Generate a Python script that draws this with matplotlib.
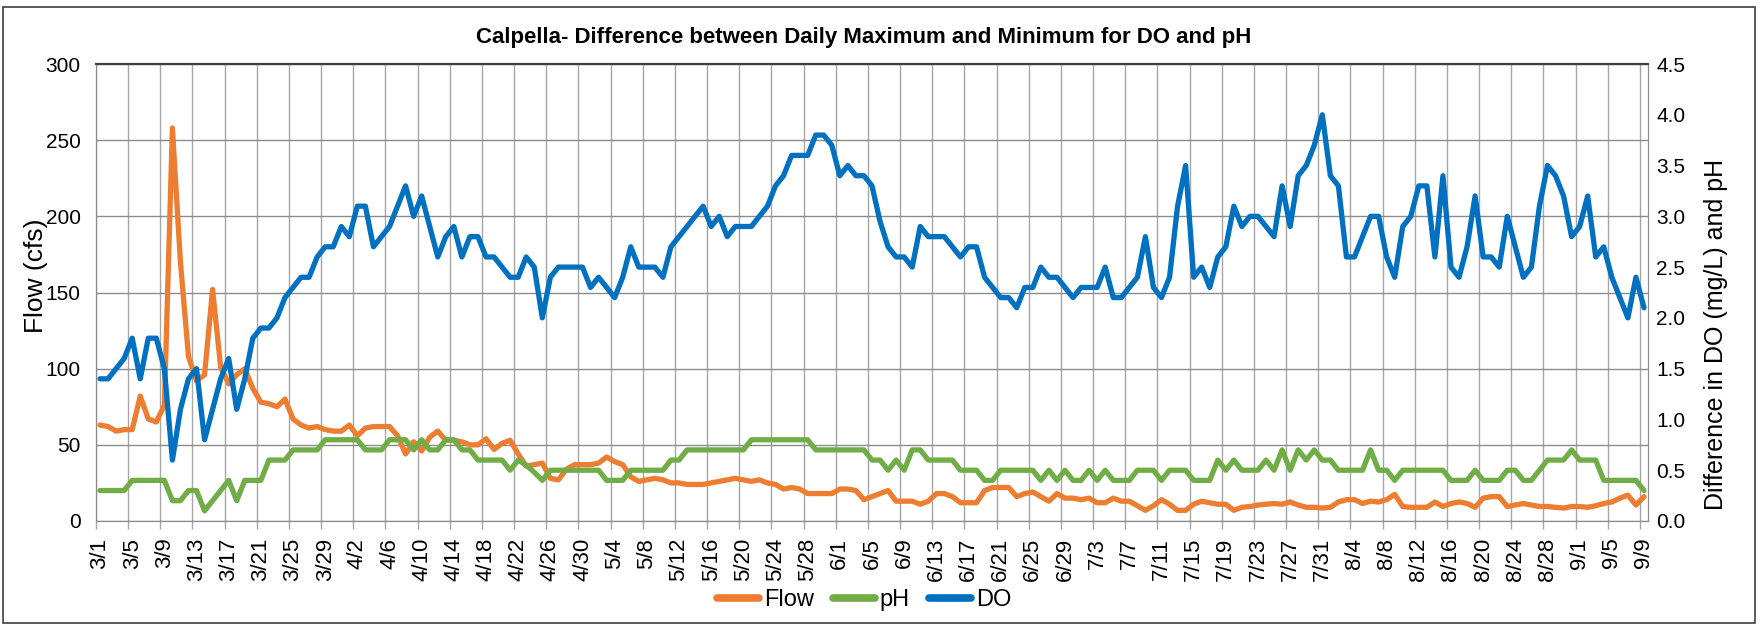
import numpy as np
import pandas as pd
import matplotlib
matplotlib.use('Agg')
import matplotlib.pyplot as plt
from matplotlib.patches import Rectangle
from matplotlib.ticker import FormatStrFormatter

plt.rcParams['font.family'] = ['Liberation Sans', 'DejaVu Sans']

# daily values, 3/1 .. 9/9
flow = [63, 62, 59, 60, 60, 82, 67, 65, 76, 258,
        170, 108, 92, 96, 152, 101, 90, 96, 100, 87,
        78, 77, 75, 80, 67, 63, 61, 62, 60, 59,
        59, 63, 56, 61, 62, 62, 62, 56, 44, 52,
        46, 55, 59, 53, 53, 52, 50, 50, 54, 47,
        51, 53, 44, 36, 37, 38, 28, 27, 34, 37,
        37, 37, 38, 42, 39, 37, 29, 26, 27, 28,
        27, 25, 25, 24, 24, 24, 25, 26, 27, 28,
        27, 26, 27, 25, 24, 21, 22, 21, 18, 18,
        18, 18, 21, 21, 20, 14, 16, 18, 20, 13,
        13, 13, 11, 13, 18, 18, 16, 12, 12, 12,
        20, 22, 22, 22, 16, 18, 19, 16, 13, 18,
        15, 15, 14, 15, 12, 12, 15, 13, 13, 10,
        7, 10, 14, 11, 7, 7, 11, 13, 12, 11,
        11, 7, 9, 9.5, 10.5, 11, 11.5, 11, 12.5, 10.5,
        9, 9, 8.5, 9, 12.5, 14, 14, 11.5, 13, 12.5,
        14, 17.5, 9.5, 9, 9, 9, 12.5, 9.5, 11.5, 12.5,
        11.5, 9, 15, 16, 16, 9.5, 10.5, 11.5, 10.5, 9.5,
        9.5, 9, 8.5, 9.5, 9.5, 9, 10, 11.5, 12.5, 15,
        17, 10.5, 16]

ph = [0.3, 0.3, 0.3, 0.3, 0.4, 0.4, 0.4, 0.4, 0.4, 0.2,
      0.2, 0.3, 0.3, 0.1, 0.2, 0.3, 0.4, 0.2, 0.4, 0.4,
      0.4, 0.6, 0.6, 0.6, 0.7, 0.7, 0.7, 0.7, 0.8, 0.8,
      0.8, 0.8, 0.8, 0.7, 0.7, 0.7, 0.8, 0.8, 0.8, 0.7,
      0.8, 0.7, 0.7, 0.8, 0.8, 0.7, 0.7, 0.6, 0.6, 0.6,
      0.6, 0.5, 0.6, 0.55, 0.48, 0.4, 0.5, 0.5, 0.5, 0.5,
      0.5, 0.5, 0.5, 0.4, 0.4, 0.4, 0.5, 0.5, 0.5, 0.5,
      0.5, 0.6, 0.6, 0.7, 0.7, 0.7, 0.7, 0.7, 0.7, 0.7,
      0.7, 0.8, 0.8, 0.8, 0.8, 0.8, 0.8, 0.8, 0.8, 0.7,
      0.7, 0.7, 0.7, 0.7, 0.7, 0.7, 0.6, 0.6, 0.5, 0.6,
      0.5, 0.7, 0.7, 0.6, 0.6, 0.6, 0.6, 0.5, 0.5, 0.5,
      0.4, 0.4, 0.5, 0.5, 0.5, 0.5, 0.5, 0.4, 0.5, 0.4,
      0.5, 0.4, 0.4, 0.5, 0.4, 0.5, 0.4, 0.4, 0.4, 0.5,
      0.5, 0.5, 0.4, 0.5, 0.5, 0.5, 0.4, 0.4, 0.4, 0.6,
      0.5, 0.6, 0.5, 0.5, 0.5, 0.6, 0.5, 0.7, 0.5, 0.7,
      0.6, 0.7, 0.6, 0.6, 0.5, 0.5, 0.5, 0.5, 0.7, 0.5,
      0.5, 0.4, 0.5, 0.5, 0.5, 0.5, 0.5, 0.5, 0.4, 0.4,
      0.4, 0.5, 0.4, 0.4, 0.4, 0.5, 0.5, 0.4, 0.4, 0.5,
      0.6, 0.6, 0.6, 0.7, 0.6, 0.6, 0.6, 0.4, 0.4, 0.4,
      0.4, 0.4, 0.3]

do = [1.4, 1.4, 1.5, 1.6, 1.8, 1.4, 1.8, 1.8, 1.5, 0.6,
      1.1, 1.4, 1.5, 0.8, 1.1, 1.4, 1.6, 1.1, 1.4, 1.8,
      1.9, 1.9, 2.0, 2.2, 2.3, 2.4, 2.4, 2.6, 2.7, 2.7,
      2.9, 2.8, 3.1, 3.1, 2.7, 2.8, 2.9, 3.1, 3.3, 3.0,
      3.2, 2.9, 2.6, 2.8, 2.9, 2.6, 2.8, 2.8, 2.6, 2.6,
      2.5, 2.4, 2.4, 2.6, 2.5, 2.0, 2.4, 2.5, 2.5, 2.5,
      2.5, 2.3, 2.4, 2.3, 2.2, 2.4, 2.7, 2.5, 2.5, 2.5,
      2.4, 2.7, 2.8, 2.9, 3.0, 3.1, 2.9, 3.0, 2.8, 2.9,
      2.9, 2.9, 3.0, 3.1, 3.3, 3.4, 3.6, 3.6, 3.6, 3.8,
      3.8, 3.7, 3.4, 3.5, 3.4, 3.4, 3.3, 2.95, 2.7, 2.6,
      2.6, 2.5, 2.9, 2.8, 2.8, 2.8, 2.7, 2.6, 2.7, 2.7,
      2.4, 2.3, 2.2, 2.2, 2.1, 2.3, 2.3, 2.5, 2.4, 2.4,
      2.3, 2.2, 2.3, 2.3, 2.3, 2.5, 2.2, 2.2, 2.3, 2.4,
      2.8, 2.3, 2.2, 2.4, 3.1, 3.5, 2.4, 2.5, 2.3, 2.6,
      2.7, 3.1, 2.9, 3.0, 3.0, 2.9, 2.8, 3.3, 2.9, 3.4,
      3.5, 3.7, 4.0, 3.4, 3.3, 2.6, 2.6, 2.8, 3.0, 3.0,
      2.6, 2.4, 2.9, 3.0, 3.3, 3.3, 2.6, 3.4, 2.5, 2.4,
      2.7, 3.2, 2.6, 2.6, 2.5, 3.0, 2.7, 2.4, 2.5, 3.1,
      3.5, 3.4, 3.2, 2.8, 2.9, 3.2, 2.6, 2.7, 2.4, 2.2,
      2.0, 2.4, 2.1]

dates = pd.date_range('2013-03-01', periods=len(flow), freq='D')
tick_labels = [f'{d.month}/{d.day}' for d in dates[::4]]

orange = '#ED7D31'
green = '#70AD47'
blue = '#0070C0'
grid_c = '#A6A6A6'

W, H = 1764, 624
fig = plt.figure(figsize=(W / 100, H / 100), dpi=100)
ax = fig.add_axes([96 / W, 1 - 521 / H, (1648 - 96) / W, (521 - 64) / H])

x = np.arange(len(flow))
line_kw = dict(lw=3.8, solid_joinstyle='round', solid_capstyle='round')
l1, = ax.plot(x, flow, color=orange, label='Flow', **line_kw)
ax2 = ax.twinx()
l2, = ax2.plot(x, ph, color=green, label='pH', **line_kw)
l3, = ax2.plot(x, do, color=blue, label='DO', **line_kw)

ax.set_xlim(-0.5, len(x) - 0.5)
ax.set_ylim(0, 300)
ax2.set_ylim(0, 4.5)
ax.set_yticks(range(0, 301, 50))
ax2.set_yticks(np.arange(0, 4.51, 0.5))
ax2.yaxis.set_major_formatter(FormatStrFormatter('%.1f'))

ax.set_xticks(x[::4])
ax.set_xticklabels(tick_labels, rotation=90)
ax.set_xticks(np.arange(-0.5, len(x), 4), minor=True)
ax.grid(axis='x', which='minor', color=grid_c, lw=1)
ax.grid(axis='y', which='major', color='#8C8C8C', lw=1)
ax.set_axisbelow(True)

ax.tick_params(axis='x', which='major', length=0, pad=12, labelsize=16)
ax.tick_params(axis='x', which='minor', length=6, color=grid_c, width=1)
ax.tick_params(axis='y', length=0, pad=11, labelsize=15)
ax2.tick_params(axis='y', length=0, pad=6, labelsize=15)

for a in (ax, ax2):
    for s in a.spines.values():
        s.set_color('#8C8C8C')
    a.spines['top'].set_color('#404040')
    a.spines['top'].set_linewidth(1.5)

fig.text(864 / W, 1 - 37 / H, 'Calpella- Difference between Daily Maximum and Minimum for DO and pH',
         ha='center', va='center', fontsize=16, fontweight='bold')
fig.text(36 / W, 1 - 276 / H, 'Flow (cfs)', rotation=90, ha='center', va='center', fontsize=19)
fig.text(1716 / W, 1 - 334 / H, 'Difference in DO (mg/L) and pH', rotation=90,
         ha='center', va='center', fontsize=18)

leg = fig.legend(handles=[l1, l2, l3], loc='center', bbox_to_anchor=(864 / W, 1 - 600 / H),
                 ncol=3, frameon=False, fontsize=17, handlelength=1.8, handletextpad=0.2,
                 columnspacing=0.8)
for h in leg.legend_handles:
    h.set_linewidth(5.5)

fig.patches.append(Rectangle((3 / W, 1 / H), (1755 - 3) / W, (617 - 1) / H,
                             transform=fig.transFigure, fill=False,
                             edgecolor='#404040', lw=1.2))

fig.savefig('out.png', dpi=100)
